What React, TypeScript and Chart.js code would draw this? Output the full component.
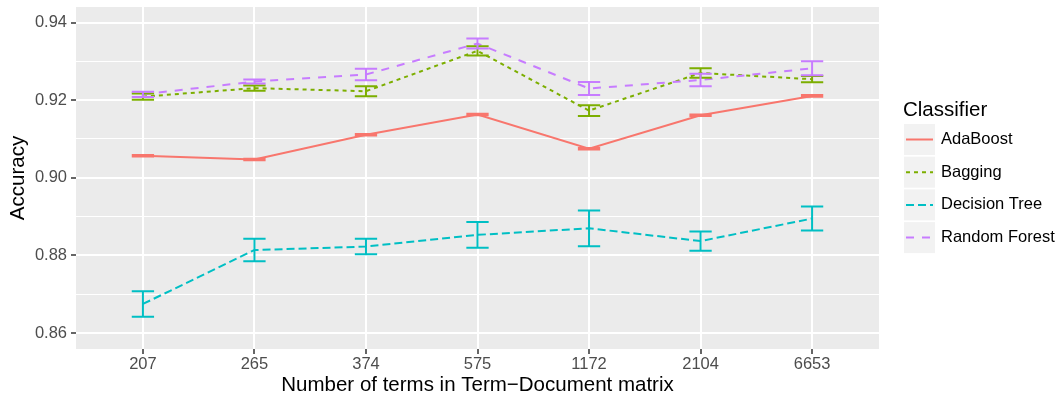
import React, { useEffect, useRef } from 'react';
import { Chart, registerables } from 'chart.js';

Chart.register(...registerables);

// ---- data ----
const categories = ['207', '265', '374', '575', '1172', '2104', '6653'];
const seriesNames = ['AdaBoost', 'Bagging', 'Decision Tree', 'Random Forest'];
const adaBoost = [0.9057, 0.9047, 0.9111, 0.9163, 0.9075, 0.9161, 0.9211];
const adaBoostErr = [0.0002, 0.0002, 0.0002, 0.0002, 0.0002, 0.0002, 0.0002];
const bagging = [0.9209, 0.9231, 0.9223, 0.9327, 0.9173, 0.927, 0.9254];
const baggingErr = [0.0008, 0.0007, 0.0013, 0.0012, 0.0014, 0.0012, 0.0008];
const decisionTree = [0.8675, 0.8814, 0.8823, 0.8853, 0.887, 0.8837, 0.8895];
const decisionTreeErr = [0.0033, 0.0029, 0.002, 0.0033, 0.0046, 0.0025, 0.0031];
const randomForest = [0.9215, 0.9248, 0.9266, 0.9346, 0.923, 0.9252, 0.9282];
const randomForestErr = [0.0007, 0.0005, 0.0015, 0.0013, 0.0017, 0.0016, 0.0018];
const yTicks = [0.86, 0.87, 0.88, 0.89, 0.9, 0.91, 0.92, 0.93, 0.94];

const seriesValues = [adaBoost, bagging, decisionTree, randomForest];
const seriesErrors = [adaBoostErr, baggingErr, decisionTreeErr, randomForestErr];
const seriesColors = ['#F8766D', '#7CAE00', '#00BFC4', '#C77CFF'];
const seriesDashes: number[][] = [[], [4, 4], [8, 4], [8, 8]];

const FONT = '"Liberation Sans", Arial, Helvetica, sans-serif';

const panelBg = {
  id: 'panelBg',
  beforeDraw(chart: any) {
    const { ctx, chartArea } = chart;
    ctx.save();
    ctx.fillStyle = '#EBEBEB';
    ctx.fillRect(chartArea.left, chartArea.top, chartArea.right - chartArea.left, chartArea.bottom - chartArea.top);
    ctx.restore();
  },
};

const errorBars = {
  id: 'errorBars',
  afterDatasetsDraw(chart: any) {
    const { ctx } = chart;
    const xs = chart.scales.x;
    const ys = chart.scales.y;
    ctx.save();
    chart.data.datasets.forEach((ds: any) => {
      ctx.strokeStyle = ds.borderColor;
      ctx.lineWidth = 2;
      ctx.setLineDash([]);
      ctx.lineCap = 'butt';
      ds.data.forEach((p: any, i: number) => {
        const e = ds.errors[i];
        const x0 = xs.getPixelForValue(p.x - 0.1);
        const x1 = xs.getPixelForValue(p.x + 0.1);
        const xc = xs.getPixelForValue(p.x);
        const yt = ys.getPixelForValue(p.y + e);
        const yb = ys.getPixelForValue(p.y - e);
        ctx.beginPath();
        ctx.moveTo(x0, yt);
        ctx.lineTo(x1, yt);
        ctx.moveTo(xc, yt);
        ctx.lineTo(xc, yb);
        ctx.moveTo(x0, yb);
        ctx.lineTo(x1, yb);
        ctx.stroke();
      });
    });
    ctx.restore();
  },
};

const ggLegend = {
  id: 'ggLegend',
  afterDraw(chart: any) {
    const { ctx, chartArea } = chart;
    const left = chartArea.right + 25;
    ctx.save();
    ctx.fillStyle = '#000000';
    ctx.font = `20.5px ${FONT}`;
    ctx.textBaseline = 'alphabetic';
    ctx.textAlign = 'left';
    ctx.fillText('Classifier', left - 1, 116);
    const top0 = 124;
    const pitch = 32.7;
    const size = 31;
    chart.data.datasets.forEach((ds: any, i: number) => {
      const top = top0 + i * pitch;
      ctx.fillStyle = '#F2F2F2';
      ctx.fillRect(left, top, size, size);
      const cy = top + size / 2;
      ctx.strokeStyle = ds.borderColor;
      ctx.lineWidth = 2;
      ctx.setLineDash(ds.borderDash || []);
      ctx.beginPath();
      ctx.moveTo(left + 2, cy);
      ctx.lineTo(left + size - 2, cy);
      ctx.stroke();
      ctx.setLineDash([]);
      ctx.fillStyle = '#000000';
      ctx.font = `16.5px ${FONT}`;
      ctx.textBaseline = 'middle';
      ctx.fillText(ds.label, left + size + 6, cy);
    });
    ctx.restore();
  },
};

export default function App() {
  const canvasRef = useRef<HTMLCanvasElement>(null);

  useEffect(() => {
    if (!canvasRef.current) return;
    const datasets = seriesNames.map((name, s) => ({
      label: name,
      data: seriesValues[s].map((v, i) => ({ x: i, y: v })),
      errors: seriesErrors[s],
      borderColor: seriesColors[s],
      backgroundColor: seriesColors[s],
      borderWidth: 2,
      borderDash: seriesDashes[s],
      pointRadius: 0,
      tension: 0,
      fill: false,
      order: seriesNames.length - s,
    }));

    const chart = new Chart(canvasRef.current, {
      type: 'line',
      data: { datasets: datasets as any },
      plugins: [panelBg, errorBars, ggLegend],
      options: {
        animation: false,
        responsive: false,
        devicePixelRatio: 1,
        layout: { padding: { top: 7, right: 182, left: 0, bottom: 0 } },
        plugins: { legend: { display: false }, tooltip: { enabled: false } },
        scales: {
          x: {
            type: 'linear',
            min: -0.6,
            max: 6.6,
            afterBuildTicks: (scale: any) => {
              scale.ticks = categories.map((_, i) => ({ value: i }));
            },
            afterFit: (scale: any) => {
              scale.height = 54;
              scale.paddingLeft = 0;
              scale.paddingRight = 0;
            },
            border: { display: false },
            grid: {
              color: '#FFFFFF',
              lineWidth: 2,
              drawTicks: true,
              tickLength: 5,
              tickColor: '#333333',
              tickWidth: 1.5,
            },
            ticks: {
              autoSkip: false,
              maxRotation: 0,
              padding: 1,
              color: '#4D4D4D',
              font: { family: FONT, size: 16.5 },
              callback: (v: any) => categories[Math.round(Number(v))],
            },
            title: {
              display: true,
              text: 'Number of terms in Term\u2212Document matrix',
              color: '#000000',
              font: { family: FONT, size: 20.5 },
              padding: { top: 0, bottom: 5 },
            },
          },
          y: {
            type: 'linear',
            min: 0.8559,
            max: 0.944,
            afterBuildTicks: (scale: any) => {
              scale.ticks = yTicks.map((v) => ({ value: v }));
            },
            afterFit: (scale: any) => {
              scale.width = 76;
              scale.paddingTop = 0;
              scale.paddingBottom = 0;
            },
            border: { display: false },
            grid: {
              color: '#FFFFFF',
              lineWidth: (c: any) => (c.index % 2 === 0 ? 2 : 1),
              drawTicks: true,
              tickLength: 5,
              tickColor: (c: any) => (c.index % 2 === 0 ? '#333333' : 'rgba(0,0,0,0)'),
              tickWidth: 1.5,
            },
            ticks: {
              autoSkip: false,
              padding: 4,
              color: '#4D4D4D',
              font: { family: FONT, size: 16.5 },
              callback: (v: any, i: number) => (i % 2 === 0 ? Number(v).toFixed(2) : ''),
            },
            title: {
              display: true,
              text: 'Accuracy',
              color: '#000000',
              font: { family: FONT, size: 20.5 },
              padding: { top: 6, bottom: 0 },
            },
          },
        },
      } as any,
    });
    return () => chart.destroy();
  }, []);

  return (
    <div style={{ position: 'absolute', left: 0, top: 0, width: 1061, height: 403, background: '#FFFFFF' }}>
      <canvas ref={canvasRef} width={1061} height={403} />
    </div>
  );
}
